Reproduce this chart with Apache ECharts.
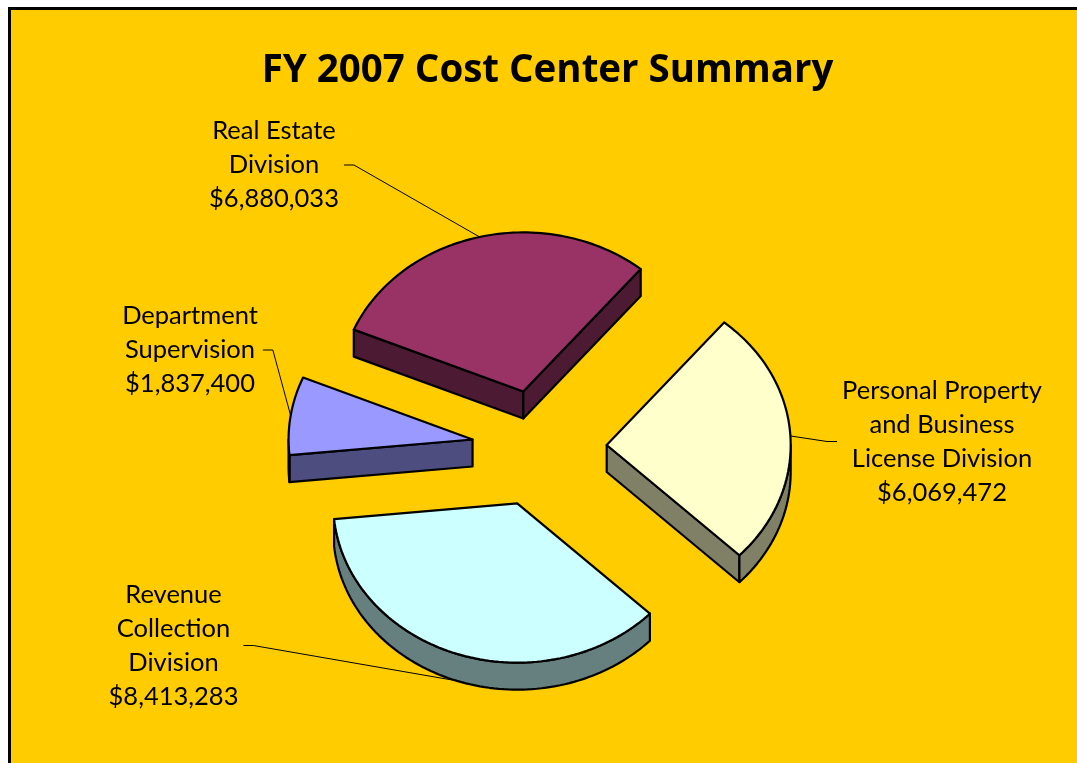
<!DOCTYPE html>
<html>
<head>
<meta charset="utf-8">
<script src="https://cdn.jsdelivr.net/npm/echarts@6/dist/echarts.min.js"></script>
<style>
  html, body { margin: 0; padding: 0; background: #ffffff; }
  #chart { width: 1077px; height: 763px; }
</style>
</head>
<body>
<div id="chart"></div>
<script>
// FY 2007 cost centers, in the order the slices run clockwise
const divisions = [
  'Real Estate Division',
  'Personal Property and Business License Division',
  'Revenue Collection Division',
  'Department Supervision'
];
const labelLines = [
  ['Real Estate', 'Division'],
  ['Personal Property', 'and Business', 'License Division'],
  ['Revenue', 'Collection', 'Division'],
  ['Department', 'Supervision']
];
const costs = [6880033, 6069472, 8413283, 1837400];
const topColors = ['#993366', '#ffffcc', '#ccffff', '#9999ff'];

// label block centres (px)
const labelCenters = [[274, 165], [942, 441.5], [173.5, 645.5], [190, 350]];

// tilted, exploded pie geometry
const PIE = { cx: 539.3, cy: 448.3, r: 184, tilt: 0.865, depth: 27, explode: 67.5, start: 157.1 };
const LABEL_FONT = '25.5px Lato';
const total = costs.reduce((a, b) => a + b, 0);

function shade(hex, f) {
  const n = parseInt(hex.slice(1), 16);
  const r = Math.round(((n >> 16) & 255) * f);
  const g = Math.round(((n >> 8) & 255) * f);
  const b = Math.round((n & 255) * f);
  return 'rgb(' + r + ',' + g + ',' + b + ')';
}

const measureCtx = document.createElement('canvas').getContext('2d');
function textWidth(s) {
  measureCtx.font = LABEL_FONT;
  return measureCtx.measureText(s).width;
}

function money(v) { return '$' + v.toLocaleString('en-US'); }

function renderSlice(params, api) {
  const i = params.dataIndex;
  const v = api.value(0);
  let before = 0;
  for (let k = 0; k < i; k++) before += costs[k];
  const rad = Math.PI / 180;
  const a1 = (PIE.start - before / total * 360) * rad;
  const a2 = (PIE.start - (before + v) / total * 360) * rad;
  const mid = (a1 + a2) / 2;
  const c = [PIE.cx + PIE.explode * Math.cos(mid), PIE.cy - PIE.explode * PIE.tilt * Math.sin(mid)];

  const pt = (t, dz) => [c[0] + PIE.r * Math.cos(t), c[1] - PIE.r * PIE.tilt * Math.sin(t) + dz];
  const arc = (from, to, dz) => {
    const n = Math.max(6, Math.ceil(Math.abs(from - to) / rad / 1.5));
    const out = [];
    for (let s = 0; s <= n; s++) out.push(pt(from + (to - from) * s / n, dz));
    return out;
  };

  const top = topColors[i];
  const side = shade(top, 0.5);
  const edge = { stroke: '#000', lineWidth: 2.2, lineJoin: 'round' };
  const children = [];
  const cb = [c[0], c[1] + PIE.depth];

  // radial walls facing the viewer
  if (Math.cos(a1) < 0) {
    children.push({ type: 'polygon', shape: { points: [c, pt(a1, 0), pt(a1, PIE.depth), cb] },
      style: Object.assign({ fill: side }, edge) });
  }
  if (Math.cos(a2) > 0) {
    children.push({ type: 'polygon', shape: { points: [c, pt(a2, 0), pt(a2, PIE.depth), cb] },
      style: Object.assign({ fill: side }, edge) });
  }
  // outer rim on the front half
  for (const n of [-1, 0, 1]) {
    const lo = Math.max(a2, -Math.PI + 2 * Math.PI * n);
    const hi = Math.min(a1, 2 * Math.PI * n);
    if (hi - lo > 1e-4) {
      children.push({ type: 'polygon',
        shape: { points: arc(hi, lo, 0).concat(arc(lo, hi, PIE.depth)) },
        style: Object.assign({ fill: side }, edge) });
    }
  }
  // top face
  children.push({ type: 'polygon', shape: { points: [c].concat(arc(a1, a2, 0)) },
    style: Object.assign({ fill: top }, edge) });

  // label and leader line
  const lines = labelLines[i].concat([money(v)]);
  const w = Math.max.apply(null, lines.map(textWidth));
  const pos = labelCenters[i];
  const anchor = Math.sin(mid) < 0 ? pt(mid, PIE.depth) : pt(mid, 0);
  const onLeft = pos[0] < anchor[0];
  const endX = onLeft ? pos[0] + w / 2 + 5 : pos[0] - w / 2 - 5;
  const elbowX = onLeft ? endX + 10 : endX - 10;
  children.push({ type: 'polyline', shape: { points: [anchor, [elbowX, pos[1]], [endX, pos[1]]] },
    style: { stroke: '#000', lineWidth: 1, fill: null } });
  children.push({ type: 'text', style: {
    text: lines.join('\n'), x: pos[0], y: pos[1], font: LABEL_FONT,
    fill: '#000', align: 'center', verticalAlign: 'middle', lineHeight: 34 } });

  return { type: 'group', children: children };
}

const chart = echarts.init(document.getElementById('chart'), null, { renderer: 'canvas' });
chart.setOption({
  animation: false,
  backgroundColor: '#ffffff',
  graphic: [
    { type: 'rect', z: -10, silent: true,
      shape: { x: 9.5, y: 8.5, width: 1200, height: 900 },
      style: { fill: '#ffcc00', stroke: '#000', lineWidth: 3 } },
    { type: 'text', z: 10, silent: true,
      style: { text: 'FY 2007 Cost Center Summary', x: 547.5, y: 71,
        font: 'bold 38.5px "Open Sans"', fill: '#000', align: 'center', verticalAlign: 'middle' } }
  ],
  series: [{
    type: 'custom',
    name: 'FY 2007 Cost Center Summary',
    coordinateSystem: 'none',
    silent: true,
    data: costs.map((v, i) => ({ name: divisions[i], value: [v] })),
    renderItem: renderSlice
  }]
});
</script>
</body>
</html>
